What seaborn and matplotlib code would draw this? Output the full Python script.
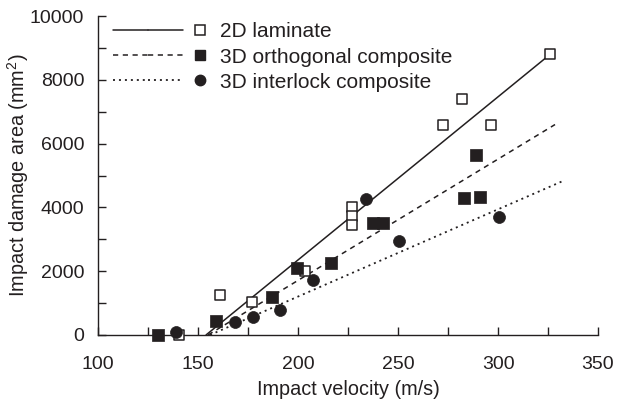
import numpy as np
import pandas as pd
import matplotlib
matplotlib.use("Agg")
import matplotlib.pyplot as plt
from matplotlib.lines import Line2D
from matplotlib.legend_handler import HandlerTuple
from matplotlib.ticker import MultipleLocator
import seaborn as sns

# Données
lam_v = [140.5, 161, 177, 203.5, 227, 227, 227, 272.5, 282, 296.5, 326]
lam_a = [0, 1250, 1030, 2000, 4020, 3730, 3440, 6590, 7410, 6590, 8800]

orth_v = [130, 159, 187, 199.5, 216.5, 237.5, 242.5, 283, 289, 291]
orth_a = [0, 430, 1180, 2110, 2250, 3520, 3520, 4280, 5650, 4340]

inter_v = [139, 168.5, 177.5, 191, 207.5, 234, 250.5, 300.5]
inter_a = [100, 420, 560, 770, 1710, 4250, 2950, 3690]

# Droites de tendance (extrémités)
lam_fit_v = [154, 326]
lam_fit_a = [0, 8800]
orth_fit_v = [155, 328.5]
orth_fit_a = [0, 6600]
inter_fit_v = [156, 332.5]
inter_fit_a = [0, 4830]

labels = ["2D laminate", "3D orthogonal composite", "3D interlock composite"]

sns.set_style("ticks")
plt.rcParams["font.family"] = ["Liberation Sans", "DejaVu Sans"]
plt.rcParams["mathtext.fontset"] = "custom"
plt.rcParams["mathtext.rm"] = "Liberation Sans"
ink = "#231f20"
dash = (0, (3.4, 3.0))
dots = (0, (1.1, 2.2))

fig = plt.figure(figsize=(6.21, 4.04), dpi=100)
ax = fig.add_axes([0.158, 0.171, 0.805, 0.789])

# Droites
sns.lineplot(x=lam_fit_v, y=lam_fit_a, ax=ax, color=ink, lw=1.1, linestyle="-")
sns.lineplot(x=orth_fit_v, y=orth_fit_a, ax=ax, color=ink, lw=1.1, linestyle=dash)
sns.lineplot(x=inter_fit_v, y=inter_fit_a, ax=ax, color=ink, lw=1.3, linestyle=dots)

# Points
ms = 62
sns.scatterplot(x=lam_v, y=lam_a, ax=ax, marker="s", s=ms, facecolor="white",
                edgecolor=ink, linewidth=1.1, clip_on=False, zorder=4)
sns.scatterplot(x=orth_v, y=orth_a, ax=ax, marker="s", s=ms + 10, color=ink,
                edgecolor=ink, linewidth=0.5, clip_on=False, zorder=4)
sns.scatterplot(x=inter_v, y=inter_a, ax=ax, marker="o", s=ms + 12, color=ink,
                edgecolor=ink, linewidth=0.5, clip_on=False, zorder=4)

ax.set_xlim(100, 350)
ax.set_ylim(0, 10000)
ax.xaxis.set_major_locator(MultipleLocator(50))
ax.xaxis.set_minor_locator(MultipleLocator(25))
ax.yaxis.set_major_locator(MultipleLocator(2000))
ax.yaxis.set_minor_locator(MultipleLocator(1000))
ax.tick_params(which="both", direction="in", length=6, width=1, color=ink,
               labelsize=14, labelcolor=ink)
ax.tick_params(axis="x", which="both", pad=15)
ax.tick_params(axis="y", which="both", pad=10)
for s in ["left", "bottom"]:
    ax.spines[s].set_color(ink)
    ax.spines[s].set_linewidth(1)
sns.despine(ax=ax)

ax.set_xlabel("Impact velocity (m/s)", fontsize=14.3, color=ink, labelpad=5)
ax.set_ylabel("Impact damage area (mm$^2$)", fontsize=14.3, color=ink, labelpad=-1)

# Légende : trait puis symbole
h_lam = (Line2D([], [], color=ink, lw=1.1),
         Line2D([], [], color=ink, lw=1.1),
         Line2D([], [], ls="none", marker="s", ms=7, mfc="white", mec=ink, mew=1.1))
h_orth = (Line2D([], [], color=ink, lw=1.1, ls=dash),
          Line2D([], [], color=ink, lw=1.1, ls=dash),
          Line2D([], [], ls="none", marker="s", ms=7.5, color=ink))
h_inter = (Line2D([], [], color=ink, lw=1.3, ls=dots),
           Line2D([], [], color=ink, lw=1.3, ls=dots),
           Line2D([], [], ls="none", marker="o", ms=7.5, color=ink))
leg = ax.legend([h_lam, h_orth, h_inter], labels,
                handler_map={tuple: HandlerTuple(ndivide=None, pad=0)},
                loc="upper left", bbox_to_anchor=(0.005, 1.02), frameon=False,
                fontsize=15, handlelength=5.0, handletextpad=0.15,
                labelspacing=0.3, borderaxespad=0.2)
for t in leg.get_texts():
    t.set_color(ink)

fig.savefig("out.png", dpi=100)
